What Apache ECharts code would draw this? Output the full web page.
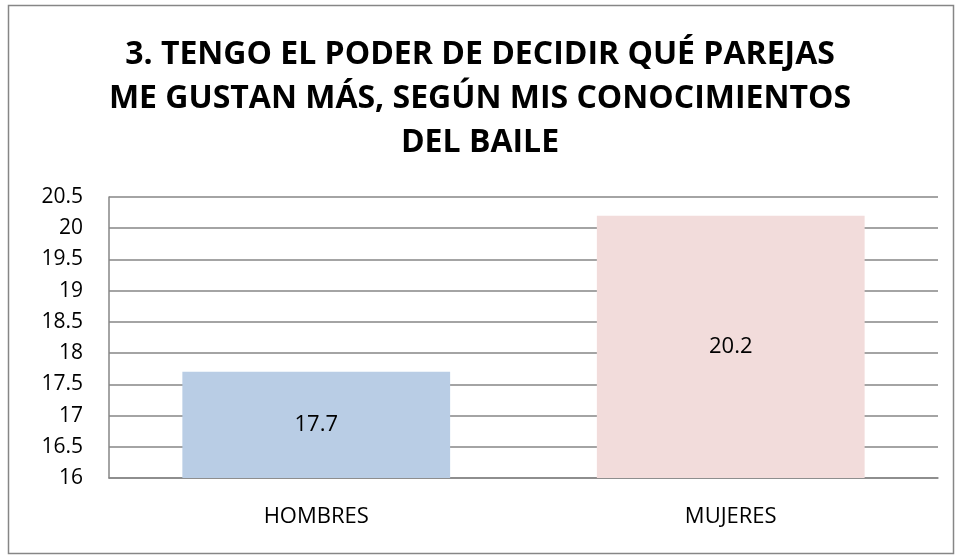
<!DOCTYPE html>
<html>
<head>
<meta charset="utf-8">
<script src="https://cdn.jsdelivr.net/npm/echarts@6/dist/echarts.min.js"></script>
<style>
  html, body { margin: 0; padding: 0; background: #fff; }
  #chart { width: 960px; height: 559px; }
</style>
</head>
<body>
<div id="chart"></div>
<script>
// datos
const categorias = ['HOMBRES', 'MUJERES']
const valores = [17.7, 20.2]
const colores = ['#B9CDE5', '#F2DCDB']
const titulo = '3. TENGO EL PODER DE DECIDIR QUÉ PAREJAS\nME GUSTAN MÁS, SEGÚN MIS CONOCIMIENTOS\nDEL BAILE'
const yMin = 16
const yMax = 20.5
const yPaso = 0.5

const fuente = '"Open Sans", sans-serif'

const chart = echarts.init(document.getElementById('chart'))

chart.setOption({
  animation: false,
  graphic: [{
    type: 'rect',
    shape: { x: 8.5, y: 5.5, width: 945, height: 548 },
    style: { fill: 'none', stroke: '#868686', lineWidth: 1.5 },
    silent: true
  }],
  title: {
    text: titulo,
    left: 'center',
    top: 28,
    textStyle: {
      fontFamily: fuente,
      fontWeight: 'bold',
      fontSize: 32,
      lineHeight: 44,
      color: '#000'
    }
  },
  grid: { left: 109, right: 22, top: 197, bottom: 81 },
  xAxis: {
    type: 'category',
    data: categorias,
    axisTick: { show: false },
    axisLine: { lineStyle: { color: '#868686', width: 1.5 } },
    axisLabel: { color: '#000', fontSize: 22, fontFamily: fuente, margin: 28 }
  },
  yAxis: {
    type: 'value',
    min: yMin,
    max: yMax,
    interval: yPaso,
    axisLine: { show: true, lineStyle: { color: '#868686', width: 1.5 } },
    axisTick: { show: false },
    splitLine: { lineStyle: { color: '#868686', width: 1.5 } },
    axisLabel: { color: '#000', fontSize: 21, fontFamily: fuente, margin: 26 }
  },
  series: [{
    type: 'bar',
    barWidth: '64.6%',
    data: valores.map((v, i) => ({ value: v, itemStyle: { color: colores[i] } })),
    label: {
      show: true,
      position: 'inside',
      color: '#000',
      fontSize: 22,
      fontFamily: fuente
    }
  }]
})
</script>
</body>
</html>
